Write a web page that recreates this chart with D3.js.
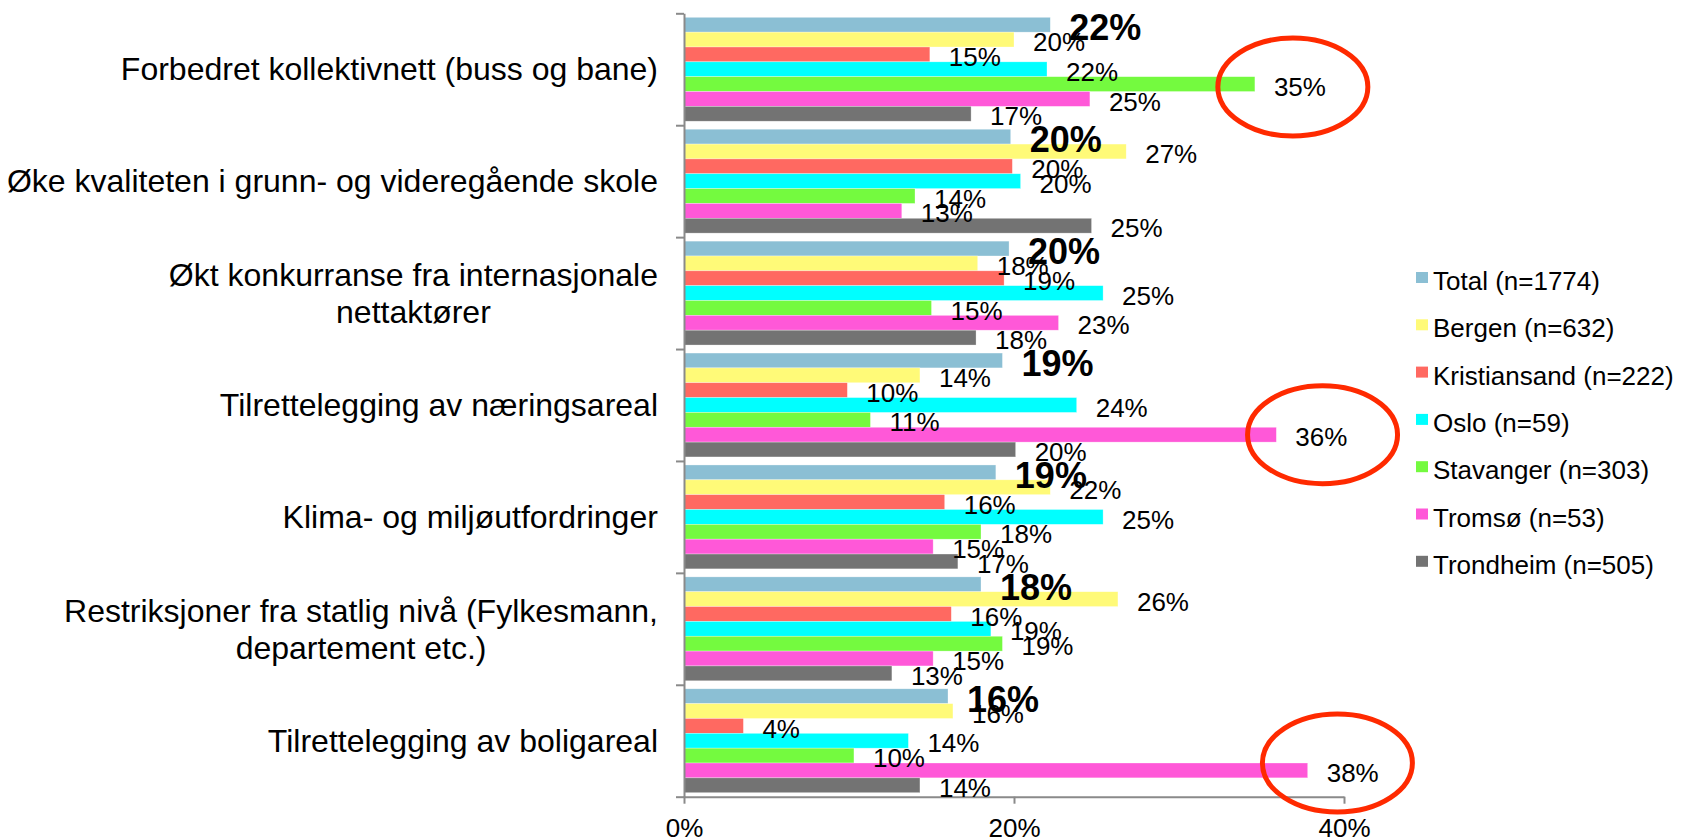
<!DOCTYPE html>
<html>
<head>
<meta charset="utf-8">
<script src="https://cdn.jsdelivr.net/npm/d3@7"></script>
<style>
  body { margin: 0; background: #fff; }
  text { font-family: "Liberation Sans", Arial, Helvetica, sans-serif; fill: #000; }
</style>
</head>
<body>
<svg id="chart"></svg>
<script>
// categories (top to bottom), "|" marks a line break
const categories = [
  'Forbedret kollektivnett (buss og bane)',
  'Øke kvaliteten i grunn- og videregående skole',
  'Økt konkurranse fra internasjonale|nettaktører',
  'Tilrettelegging av næringsareal',
  'Klima- og miljøutfordringer',
  'Restriksjoner fra statlig nivå (Fylkesmann,|departement etc.)',
  'Tilrettelegging av boligareal'
];

const seriesNames = [
  'Total (n=1774)',
  'Bergen (n=632)',
  'Kristiansand (n=222)',
  'Oslo (n=59)',
  'Stavanger (n=303)',
  'Tromsø (n=53)',
  'Trondheim (n=505)'
];

// percent values per series, same order as categories
const totalValues        = [22.2, 19.8, 19.7, 19.3, 18.9, 18.0, 16.0];
const bergenValues       = [20.0, 26.8, 17.8, 14.3, 22.2, 26.3, 16.3];
const kristiansandValues = [14.9, 19.9, 19.4,  9.9, 15.8, 16.2,  3.6];
const osloValues         = [22.0, 20.4, 25.4, 23.8, 25.4, 18.6, 13.6];
const stavangerValues    = [34.6, 14.0, 15.0, 11.3, 18.0, 19.3, 10.3];
const tromsoValues       = [24.6, 13.2, 22.7, 35.9, 15.1, 15.1, 37.8];
const trondheimValues    = [17.4, 24.7, 17.7, 20.1, 16.6, 12.6, 14.3];

const seriesColors = ['#8bbfd4', '#fffa78', '#ff6961', '#00ffff', '#74fa3f', '#ff58d8', '#737373'];

const xTicks = [0, 20, 40];

// red rings drawn by hand: category index, (fractional) bar slot, ring centre in % units
const highlights = [
  {cat: 0, slot: 4.2, at: 36.9},
  {cat: 3, slot: 5.0, at: 38.7},
  {cat: 6, slot: 4.5, at: 39.6}
];

const allValues = [totalValues, bergenValues, kristiansandValues, osloValues,
                   stavangerValues, tromsoValues, trondheimValues];

const W = 1686, H = 839;
const svg = d3.select('#chart').attr('width', W).attr('height', H);

const x = d3.scaleLinear().domain([0, 40]).range([684, 1344]);

const yGroup = d3.scaleBand()
  .domain(d3.range(categories.length))
  .range([13.3, 796.7]);

const yBar = d3.scaleBand()
  .domain(d3.range(seriesNames.length))
  .range([0, yGroup.bandwidth()])
  .paddingOuter(0.27);

const yEdges = d3.scaleLinear().domain([0, categories.length]).range([13.3, 796.7]);

const rows = [];
allValues.forEach((vals, s) => {
  vals.forEach((v, c) => rows.push({c, s, v}));
});

// bars
svg.append('g')
  .selectAll('rect')
  .data(rows)
  .join('rect')
  .attr('x', x(0))
  .attr('y', d => yGroup(d.c) + yBar(d.s))
  .attr('width', d => x(d.v) - x(0))
  .attr('height', yBar.bandwidth())
  .attr('fill', d => seriesColors[d.s])
  .attr('stroke', '#fff')
  .attr('stroke-opacity', 0.5)
  .attr('stroke-width', 0.6);

// axes
const axisColor = '#8a8a8a';

const yAxis = svg.append('g')
  .attr('transform', `translate(${x(0)},0)`)
  .call(d3.axisLeft(yEdges).ticks(categories.length).tickFormat('').tickSize(8).tickSizeOuter(0));

const xAxis = svg.append('g')
  .attr('transform', `translate(0,${yEdges(categories.length)})`)
  .call(d3.axisBottom(x).tickValues(xTicks).tickFormat(d => d + '%').tickSize(7).tickSizeOuter(0).tickPadding(15));

[xAxis, yAxis].forEach(a => {
  a.select('.domain').attr('stroke', axisColor).attr('stroke-width', 2);
  a.selectAll('.tick line').attr('stroke', axisColor).attr('stroke-width', 2);
});
xAxis.selectAll('.tick text')
  .style('font-size', '26px')
  .style('font-family', '"Liberation Sans", Arial, sans-serif')
  .attr('fill', '#000');

// category labels
const catG = svg.append('g');
categories.forEach((cat, i) => {
  const lines = cat.split('|');
  const cy = yGroup(i) + yGroup.bandwidth() / 2;
  const t = catG.append('text')
    .attr('text-anchor', 'middle')
    .style('font-size', '32px');
  lines.forEach((ln, k) => {
    t.append('tspan')
      .attr('x', 0)
      .attr('y', cy + (k - (lines.length - 1) / 2) * 37)
      .attr('dy', '0.35em')
      .text(ln);
  });
  const bb = t.node().getBBox();
  t.attr('transform', `translate(${658 - bb.width / 2},0)`);
});

// value labels
svg.append('g')
  .selectAll('text')
  .data(rows)
  .join('text')
  .attr('x', d => x(d.v) + 19)
  .attr('y', d => yGroup(d.c) + yBar(d.s) + yBar.bandwidth() / 2 + (d.s === 0 ? 3 : 2.5))
  .attr('dy', '0.35em')
  .style('font-size', d => d.s === 0 ? '36px' : '26px')
  .style('font-weight', d => d.s === 0 ? 'bold' : 'normal')
  .text(d => Math.round(d.v) + '%');

// red rings
svg.append('g')
  .selectAll('ellipse')
  .data(highlights)
  .join('ellipse')
  .attr('cx', d => x(d.at))
  .attr('cy', d => yGroup(d.cat) + yBar(0) + yBar.step() * (d.slot + 0.5))
  .attr('rx', 75)
  .attr('ry', 49)
  .attr('fill', 'none')
  .attr('stroke', '#ff2a00')
  .attr('stroke-width', 5);

// legend
const legend = svg.append('g')
  .selectAll('g')
  .data(seriesNames)
  .join('g')
  .attr('transform', (d, i) => `translate(1416,${290 + i * 47.3})`);

legend.append('rect')
  .attr('x', 0)
  .attr('y', -18)
  .attr('width', 12)
  .attr('height', 11)
  .attr('fill', (d, i) => seriesColors[i]);

legend.append('text')
  .attr('x', 17)
  .attr('y', 0)
  .style('font-size', '26px')
  .text(d => d);
</script>
</body>
</html>
